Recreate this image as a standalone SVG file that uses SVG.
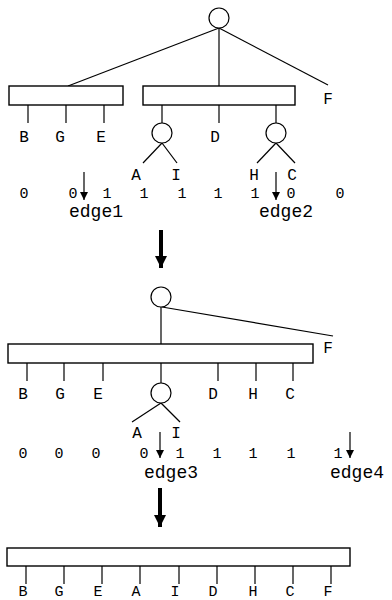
<svg xmlns="http://www.w3.org/2000/svg" width="392" height="600" viewBox="0 0 392 600">
  <defs>
    <marker id="tip" viewBox="0 0 8 10" refX="8" refY="5" markerWidth="8" markerHeight="10" markerUnits="userSpaceOnUse" orient="auto">
      <path d="M0,1 L8,5 L0,9 Z" fill="#000"/>
    </marker>
    <marker id="bigtip" viewBox="0 0 12 12" refX="12" refY="6" markerWidth="12" markerHeight="12" markerUnits="userSpaceOnUse" orient="auto">
      <path d="M0,0 L12,6 L0,12 Z" fill="#000"/>
    </marker>
  </defs>
  <style>
    .ln { stroke: #000; stroke-width: 1.2; fill: none; }
    .box { stroke: #000; stroke-width: 1.4; fill: #fff; }
    .nd { stroke: #000; stroke-width: 1.2; fill: #fff; }
    .lb { font-family: "Liberation Mono", "Courier New", monospace; font-size: 16px; fill: #000; text-anchor: middle; }
    .lb-low { font-size: 15px; }
    .bit { font-family: "Liberation Mono", "Courier New", monospace; font-size: 15px; fill: #000; text-anchor: middle; }
    .edge { font-family: "Liberation Mono", "Courier New", monospace; font-size: 18px; fill: #000; text-anchor: middle; }
    .small { stroke: #000; stroke-width: 1.2; fill: none; marker-end: url(#tip); }
    .big { stroke: #000; stroke-width: 4; fill: none; marker-end: url(#bigtip); }
  </style>

  <!-- connectors -->
  <g id="connectors">
    <!-- tree 1 -->
    <line class="ln" x1="219" y1="28" x2="68" y2="86"/>
    <line class="ln" x1="219" y1="28" x2="219" y2="86"/>
    <line class="ln" x1="219" y1="28" x2="328" y2="85"/>
    <line class="ln" x1="28" y1="105" x2="28" y2="123"/>
    <line class="ln" x1="66" y1="105" x2="66" y2="123"/>
    <line class="ln" x1="104" y1="105" x2="104" y2="123"/>
    <line class="ln" x1="162" y1="105" x2="162" y2="123"/>
    <line class="ln" x1="219" y1="105" x2="219" y2="123"/>
    <line class="ln" x1="276" y1="105" x2="276" y2="123"/>
    <line class="ln" x1="162" y1="143" x2="143" y2="163"/>
    <line class="ln" x1="162" y1="143" x2="177" y2="163"/>
    <line class="ln" x1="276" y1="143" x2="257" y2="163"/>
    <line class="ln" x1="276" y1="143" x2="295" y2="163"/>
    <!-- tree 2 -->
    <line class="ln" x1="162" y1="307" x2="333" y2="336"/>
    <line class="ln" x1="161" y1="307" x2="161" y2="344"/>
    <line class="ln" x1="27" y1="363" x2="27" y2="381"/>
    <line class="ln" x1="64" y1="363" x2="64" y2="381"/>
    <line class="ln" x1="103" y1="363" x2="103" y2="381"/>
    <line class="ln" x1="161" y1="363" x2="161" y2="383"/>
    <line class="ln" x1="218" y1="363" x2="218" y2="381"/>
    <line class="ln" x1="256" y1="363" x2="256" y2="381"/>
    <line class="ln" x1="293" y1="363" x2="293" y2="381"/>
    <line class="ln" x1="161" y1="403" x2="132" y2="422"/>
    <line class="ln" x1="161" y1="403" x2="180" y2="422"/>
    <!-- tree 3 -->
    <line class="ln" x1="26" y1="566" x2="26" y2="584"/>
    <line class="ln" x1="64" y1="566" x2="64" y2="584"/>
    <line class="ln" x1="102" y1="566" x2="102" y2="584"/>
    <line class="ln" x1="140" y1="566" x2="140" y2="584"/>
    <line class="ln" x1="179" y1="566" x2="179" y2="584"/>
    <line class="ln" x1="217" y1="566" x2="217" y2="584"/>
    <line class="ln" x1="255" y1="566" x2="255" y2="584"/>
    <line class="ln" x1="293" y1="566" x2="293" y2="584"/>
    <line class="ln" x1="331" y1="566" x2="331" y2="584"/>
    <!-- edge pointers -->
    <line class="small" x1="84" y1="172" x2="84" y2="200"/>
    <line class="small" x1="276" y1="172" x2="276" y2="200"/>
    <line class="small" x1="160" y1="432" x2="160" y2="458"/>
    <line class="small" x1="350" y1="432" x2="350" y2="458"/>
    <!-- transformation steps -->
    <line class="big" x1="161" y1="230" x2="161" y2="268"/>
    <line class="big" x1="160" y1="488" x2="160" y2="527"/>
  </g>

  <!-- tree 1 -->
  <g id="t1-root"><circle class="nd" cx="219" cy="18" r="10"/></g>
  <g id="t1-bge"><rect class="box" x="9" y="86" width="114" height="19"/></g>
  <g id="t1-right"><rect class="box" x="143" y="86" width="152" height="19"/></g>
  <g id="t1-ai"><circle class="nd" cx="162" cy="133" r="10"/></g>
  <g id="t1-hc"><circle class="nd" cx="276" cy="133" r="10"/></g>
  <g id="t1-labels">
    <text class="lb" x="328" y="104">F</text>
    <text class="lb" x="24" y="142">B</text>
    <text class="lb" x="60" y="142">G</text>
    <text class="lb" x="101" y="142">E</text>
    <text class="lb" x="215" y="142">D</text>
    <text class="lb" x="136" y="180">A</text>
    <text class="lb" x="176" y="180">I</text>
    <text class="lb" x="254" y="180">H</text>
    <text class="lb" x="292" y="180">C</text>
  </g>
  <g id="t1-bits">
    <text class="bit" x="24" y="198">0</text>
    <text class="bit" x="73" y="198">0</text>
    <text class="bit" x="107" y="198">1</text>
    <text class="bit" x="144" y="198">1</text>
    <text class="bit" x="182" y="198">1</text>
    <text class="bit" x="218" y="198">1</text>
    <text class="bit" x="255" y="198">1</text>
    <text class="bit" x="291" y="198">0</text>
    <text class="bit" x="340" y="198">0</text>
    <text class="edge" x="96" y="217">edge1</text>
    <text class="edge" x="286" y="217">edge2</text>
  </g>

  <!-- tree 2 -->
  <g id="t2-root"><circle class="nd" cx="161" cy="297" r="10"/></g>
  <g id="t2-box"><rect class="box" x="8" y="344" width="305" height="19"/></g>
  <g id="t2-ai"><circle class="nd" cx="161" cy="393" r="10"/></g>
  <g id="t2-labels">
    <text class="lb" x="328" y="353">F</text>
    <text class="lb" x="23" y="399">B</text>
    <text class="lb" x="60" y="399">G</text>
    <text class="lb" x="98" y="399">E</text>
    <text class="lb" x="213" y="399">D</text>
    <text class="lb" x="253" y="399">H</text>
    <text class="lb" x="290" y="399">C</text>
    <text class="lb" x="137" y="438">A</text>
    <text class="lb" x="176" y="438">I</text>
  </g>
  <g id="t2-bits">
    <text class="bit" x="23" y="458">0</text>
    <text class="bit" x="59" y="458">0</text>
    <text class="bit" x="96" y="458">0</text>
    <text class="bit" x="144" y="458">0</text>
    <text class="bit" x="180" y="458">1</text>
    <text class="bit" x="217" y="458">1</text>
    <text class="bit" x="253" y="458">1</text>
    <text class="bit" x="291" y="458">1</text>
    <text class="bit" x="338" y="458">1</text>
    <text class="edge" x="171" y="478">edge3</text>
    <text class="edge" x="357" y="478">edge4</text>
  </g>

  <!-- tree 3 -->
  <g id="t3-box"><rect class="box" x="7" y="548" width="343" height="18"/></g>
  <g id="t3-labels">
    <text class="lb lb-low" x="23" y="596">B</text>
    <text class="lb lb-low" x="59" y="596">G</text>
    <text class="lb lb-low" x="98" y="596">E</text>
    <text class="lb lb-low" x="136" y="596">A</text>
    <text class="lb lb-low" x="175" y="596">I</text>
    <text class="lb lb-low" x="213" y="596">D</text>
    <text class="lb lb-low" x="253" y="596">H</text>
    <text class="lb lb-low" x="290" y="596">C</text>
    <text class="lb lb-low" x="328" y="596">F</text>
  </g>
</svg>
